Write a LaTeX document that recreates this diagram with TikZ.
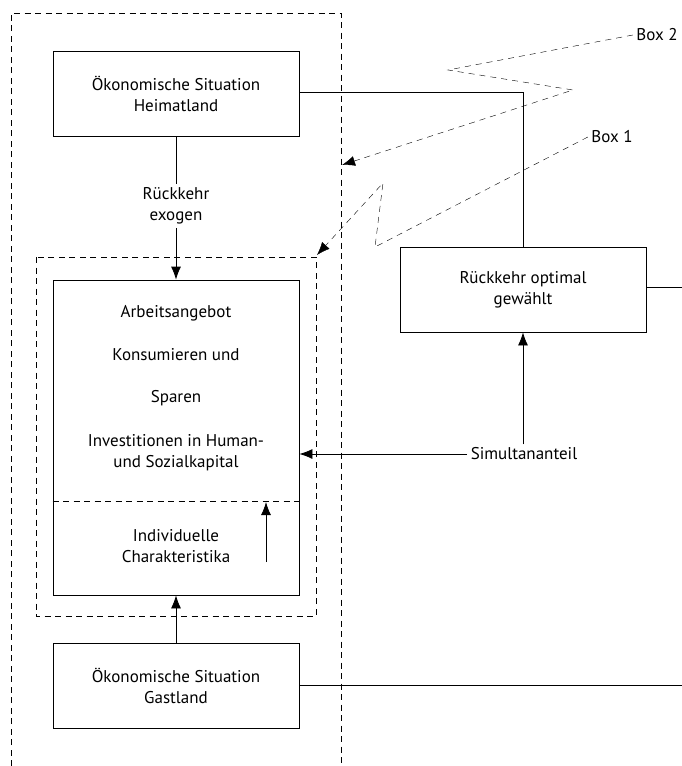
\documentclass[tikz,border=0pt]{standalone}
\usepackage{fontspec}
\setmainfont{PT Sans}
\usetikzlibrary{arrows.meta}
\begin{document}
\begin{tikzpicture}[x=1pt,y=-1pt,>={Latex[length=13pt,width=10pt]},
	font=\fontsize{17}{21}\selectfont,
	box/.style={draw,thick,minimum width=246pt,minimum height=85pt,align=center,inner sep=0pt},
	frame/.style={dash pattern=on 6pt off 4.5pt},
	pointer/.style={dash pattern=on 6pt off 5pt}]
	\useasboundingbox (0,0) rectangle (682,766);
	\draw[frame] (11,766) -- (11,13) -- (341,13) -- (341,766);
	\draw[frame] (36,257) rectangle (316,616);
	\node[box] (heimat) at (176,93.5) {Ökonomische Situation\\Heimatland};
	\node[box,minimum height=315pt] (haushalt) at (176,437.5) {};
	\node[box] (gast) at (176,685.5) {Ökonomische Situation\\Gastland};
	\node[box] (optimal) at (523,289.5) {Rückkehr optimal\\gewählt};
	\node[align=center] (exogen) at (176,206) {Rückkehr\\exogen};
	\node (simultan) at (524,454) {Simultananteil};
	\node (arbeit) at (176,313) {Arbeitsangebot};
	\node (konsum) at (176,355) {Konsumieren und};
	\node (sparen) at (176,398) {Sparen};
	\node[align=center] (invest) at (176,453) {Investitionen in Human-\\und Sozialkapital};
	\node[align=center] (indiv) at (176,546) {Individuelle\\Charakteristika};
	\draw[frame] (haushalt.west |- 0,501) -- (haushalt.east |- 0,501);
	\coordinate (indivfuss) at (266,562);
	\coordinate (indivkopf) at (266,502);
	\draw[thick,->] (indivfuss) -- (indivkopf);
	\draw[thick] (heimat) -- (exogen);
	\draw[thick,->] (exogen) -- (haushalt);
	\draw[thick,->] (gast) -- (haushalt);
	\draw[thick,->] (simultan) -- (haushalt.east |- simultan);
	\draw[thick,->] (optimal |- simultan.north) -- (optimal.south);
	\draw[thick] (heimat.east |- 0,92) -- (optimal.north |- 0,92) -- (optimal.north);
	\coordinate (rand1) at (682,287);
	\coordinate (rand2) at (682,685.5);
	\draw[thick] (optimal.east |- rand1) -- (rand1);
	\draw[thick] (gast.east) -- (rand2);
	\node (box2) at (657,35) {Box 2};
	\node (box1) at (612,137) {Box 1};
	\coordinate (knick2a) at (448,70);
	\coordinate (knick2b) at (573,90);
	\coordinate (ziel2) at (342,165);
	\coordinate (knick1a) at (375,247);
	\coordinate (knick1b) at (383,183);
	\coordinate (ziel1) at (317,255);
	\draw[pointer,->] (box2.west) -- (knick2a) -- (knick2b) -- (ziel2);
	\draw[pointer,->] (box1.west) -- (knick1a) -- (knick1b) -- (ziel1);
\end{tikzpicture}
\end{document}
